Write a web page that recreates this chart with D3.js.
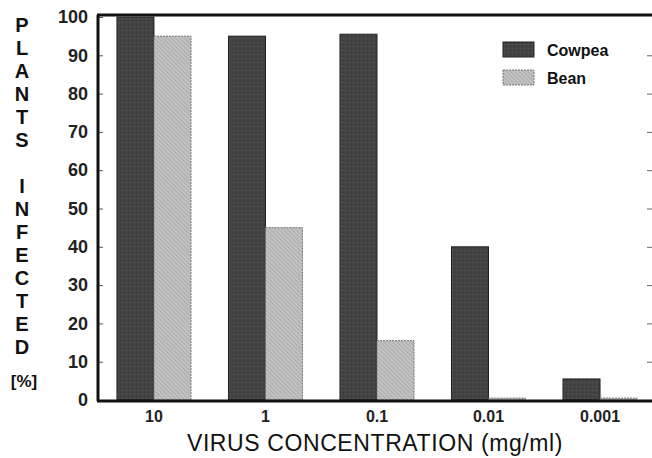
<!DOCTYPE html>
<html><head><meta charset="utf-8">
<script src="https://cdn.jsdelivr.net/npm/d3@7/dist/d3.min.js"></script>
<style>
body{margin:0;background:#fff;}
svg{display:block;font-family:"Liberation Sans",Arial,sans-serif;}
</style></head><body>
<svg id="c" width="652" height="458"></svg>
<script>
const categories = ["10", "1", "0.1", "0.01", "0.001"];
const seriesNames = ["Cowpea", "Bean"];
const cowpea = [100, 95, 95.5, 40, 5.5];
const bean = [95, 45, 15.5, 0.5, 0.5];
const yTicks = [0, 10, 20, 30, 40, 50, 60, 70, 80, 90, 100];
const yTitle = ["P","L","A","N","T","S"," ","I","N","F","E","C","T","E","D"];

const svg = d3.select("#c");
const defs = svg.append("defs");
const pc = defs.append("pattern").attr("id","pc").attr("patternUnits","userSpaceOnUse").attr("width",4).attr("height",4);
pc.append("rect").attr("width",4).attr("height",4).attr("fill","#444");
pc.append("rect").attr("x",1).attr("y",2).attr("width",1).attr("height",1).attr("fill","#585858");
pc.append("rect").attr("x",3).attr("y",0).attr("width",1).attr("height",1).attr("fill","#363636");
const pb = defs.append("pattern").attr("id","pb").attr("patternUnits","userSpaceOnUse").attr("width",3).attr("height",3).attr("patternTransform","rotate(45)");
pb.append("rect").attr("width",3).attr("height",3).attr("fill","#c2c2c2");
pb.append("rect").attr("width",3).attr("height",1).attr("fill","#acacac");

const mLeft = 98, mTop = 15, mBottom = 400, mRight = 656;
const x0 = d3.scaleBand().domain(categories).range([mLeft, mRight]).paddingInner(0.336).paddingOuter(0.17);
const x1 = d3.scaleBand().domain(seriesNames).range([0, x0.bandwidth()]);
const y = d3.scaleLinear().domain([0,100]).range([mBottom, 17]);
const fills = {Cowpea:"url(#pc)", Bean:"url(#pb)"};
const strokes = {Cowpea:"#222", Bean:"#777"};
const dash = {Cowpea:null, Bean:"2,1"};

const data = categories.map((c,i)=>({c, vals:[{s:"Cowpea",v:cowpea[i]},{s:"Bean",v:bean[i]}]}));
const g = svg.append("g");
g.selectAll("g.grp").data(data).join("g").attr("class","grp")
  .attr("transform",d=>`translate(${x0(d.c)},0)`)
  .selectAll("rect").data(d=>d.vals).join("rect")
  .attr("x",d=>x1(d.s)).attr("width",x1.bandwidth())
  .attr("y",d=>y(d.v)).attr("height",d=>mBottom - y(d.v))
  .attr("fill",d=>fills[d.s]).attr("stroke",d=>strokes[d.s]).attr("stroke-width",1)
  .attr("stroke-dasharray",d=>dash[d.s]);

// left axis (inward ticks)
const ya = svg.append("g").attr("transform",`translate(${mLeft},0)`)
  .call(d3.axisLeft(y).tickValues(yTicks).tickSize(-5).tickPadding(10));
ya.select(".domain").remove();
ya.selectAll(".tick line").attr("stroke","#555").attr("stroke-width",1);
ya.selectAll(".tick text").attr("font-size",18).attr("font-weight","bold").attr("fill","#222").attr("font-family","'Liberation Sans',Arial,sans-serif");
// right axis ticks
const yr = svg.append("g").attr("transform",`translate(652,0)`)
  .call(d3.axisRight(y).tickValues(yTicks.slice(1,10)).tickSize(-5).tickFormat(""));
yr.select(".domain").remove();
yr.selectAll(".tick line").attr("stroke","#666");

// frame
svg.append("line").attr("x1",mLeft).attr("x2",mLeft).attr("y1",mTop).attr("y2",mBottom+1).attr("stroke","#111").attr("stroke-width",3);
svg.append("line").attr("x1",mLeft-1).attr("x2",652).attr("y1",mTop).attr("y2",mTop).attr("stroke","#111").attr("stroke-width",3);
svg.append("line").attr("x1",mLeft-1).attr("x2",652).attr("y1",mBottom+1).attr("y2",mBottom+1).attr("stroke","#111").attr("stroke-width",3);

// x axis labels
const xa = svg.append("g").attr("transform",`translate(0,${mBottom})`)
  .call(d3.axisBottom(x0).tickSize(0).tickPadding(11));
xa.select(".domain").remove();
xa.selectAll(".tick text").attr("font-size",16).attr("font-weight","bold").attr("fill","#222").attr("font-family","'Liberation Sans',Arial,sans-serif");

svg.append("text").attr("x",375).attr("y",451).attr("text-anchor","middle")
  .attr("font-size",23).attr("letter-spacing",0.6).attr("fill","#111").text("VIRUS CONCENTRATION (mg/ml)");

// y title stacked letters
svg.selectAll("text.yt").data(yTitle).join("text").attr("class","yt")
  .attr("x",22).attr("y",(d,i)=>32 + i*23).attr("text-anchor","middle")
  .attr("font-size",20).attr("font-weight","bold").attr("fill","#111").text(d=>d);
svg.append("text").attr("x",24).attr("y",387).attr("text-anchor","middle")
  .attr("font-size",17).attr("font-weight","bold").attr("fill","#111").text("[%]");

// legend
const lg = svg.append("g").attr("transform","translate(503,42)");
seriesNames.forEach((s,i)=>{
  lg.append("rect").attr("x",0).attr("y",i*28).attr("width",31).attr("height",15)
    .attr("fill",fills[s]).attr("stroke",strokes[s]).attr("stroke-dasharray",dash[s]);
  lg.append("text").attr("x",44).attr("y",i*28+14).attr("font-size",16).attr("font-weight","bold")
    .attr("fill","#111").text(s);
});
</script></body></html>
